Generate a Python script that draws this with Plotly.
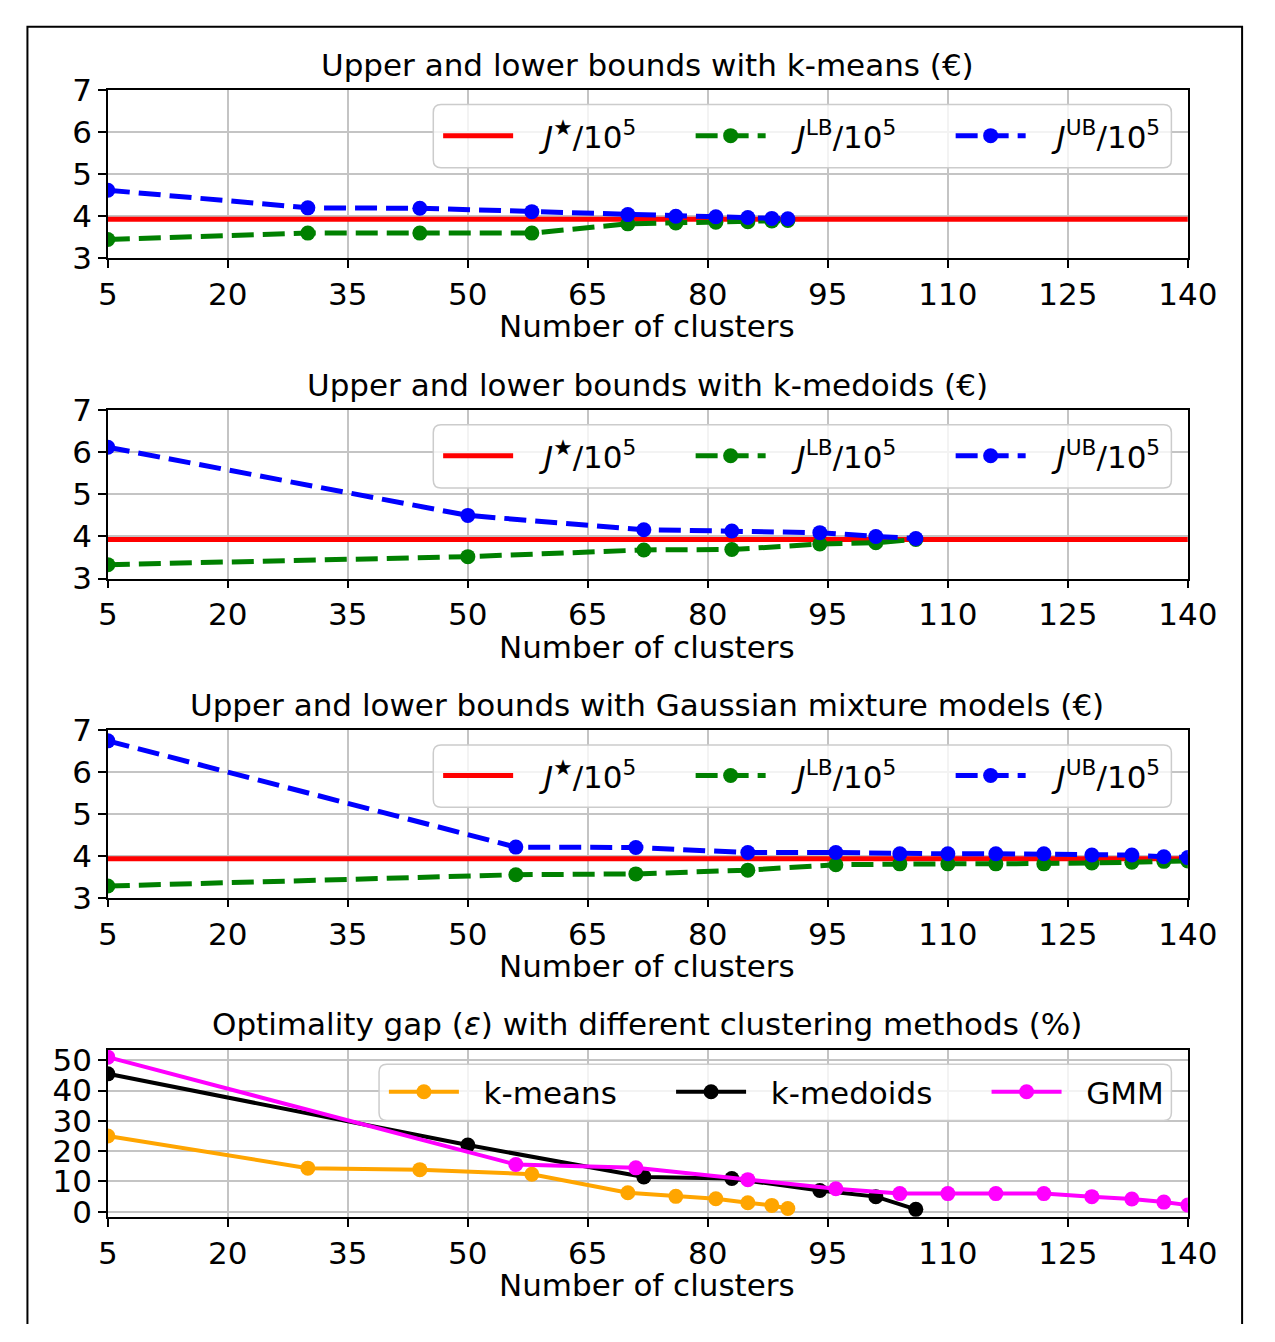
import plotly.graph_objects as go

# ---------------- data ----------------
J_STAR = 3.93
X_RANGE = [5, 140]

km_x = [5, 30, 44, 58, 70, 76, 81, 85, 88, 90]
km_ub = [4.62, 4.20, 4.19, 4.11, 4.04, 4.00, 3.99, 3.97, 3.95, 3.94]
km_lb = [3.45, 3.60, 3.60, 3.60, 3.82, 3.84, 3.86, 3.87, 3.89, 3.90]

kmed_x = [5, 50, 72, 83, 94, 101, 106]
kmed_ub = [6.12, 4.50, 4.16, 4.13, 4.09, 4.00, 3.95]
kmed_lb = [3.33, 3.52, 3.68, 3.69, 3.82, 3.85, 3.93]

gmm_x = [5, 56, 71, 85, 96, 104, 110, 116, 122, 128, 133, 137, 140]
gmm_ub = [6.75, 4.21, 4.20, 4.08, 4.08, 4.05, 4.05, 4.05, 4.05, 4.02, 4.02, 3.98, 3.96]
gmm_lb = [3.28, 3.55, 3.57, 3.66, 3.79, 3.81, 3.81, 3.81, 3.81, 3.83, 3.85, 3.87, 3.88]

gap_km = [25.0, 14.4, 13.9, 12.4, 6.3, 5.1, 4.3, 3.0, 2.1, 1.1]
gap_kmed = [45.5, 22.0, 11.5, 11.0, 7.0, 5.0, 0.8]
gap_gmm = [51.0, 15.6, 14.5, 10.6, 7.6, 6.0, 6.0, 6.0, 6.0, 5.0, 4.2, 3.2, 2.2]

x_ticks = [5, 20, 35, 50, 65, 80, 95, 110, 125, 140]
bound_ticks = [3, 4, 5, 6, 7]
gap_ticks = [0, 10, 20, 30, 40, 50]

titles = [
    "Upper and lower bounds with k-means (€)",
    "Upper and lower bounds with k-medoids (€)",
    "Upper and lower bounds with Gaussian mixture models (€)",
    "Optimality gap (<i>ε</i>) with different clustering methods (%)",
]
xlabel = "Number of clusters"

# ---------------- layout helpers ----------------
W, H = 1275, 1342
FONT = "DejaVu Sans"
FS = 31
LEAD = "\u00a0\u00a0\u2009"
LEAD4 = "\u00a0\u00a0"
TRAIL = "\u00a0" * 5

def px_y(p):
    return 1 - p / H

panels = [(74, 247), (403, 576), (732, 904), (1060, 1232)]
x_dom = [101 / W, 1216 / W]

fig = go.Figure()

ST_NAME = LEAD + "<i>J</i><sup>★</sup>/10<sup>5</sup>" + TRAIL
LB_NAME = LEAD + "<i>J</i><sup>LB</sup>/10<sup>5</sup>" + TRAIL
UB_NAME = LEAD + "<i>J</i><sup>UB</sup>/10<sup>5</sup>"

dash = "22px,9px"
MS = 15

bound_sets = [(km_x, km_lb, km_ub), (kmed_x, kmed_lb, kmed_ub), (gmm_x, gmm_lb, gmm_ub)]
for i, (xs, lb, ub) in enumerate(bound_sets):
    n = i + 1
    xa = "x" if n == 1 else f"x{n}"
    ya = "y" if n == 1 else f"y{n}"
    lg = "legend" if n == 1 else f"legend{n}"
    fig.add_trace(go.Scatter(x=X_RANGE, y=[J_STAR, J_STAR], mode="lines",
                             line=dict(color="red", width=5), name=ST_NAME,
                             xaxis=xa, yaxis=ya, legend=lg))
    fig.add_trace(go.Scatter(x=xs, y=lb, mode="lines+markers",
                             line=dict(color="green", width=5, dash=dash),
                             marker=dict(size=MS, color="green"), name=LB_NAME,
                             xaxis=xa, yaxis=ya, legend=lg))
    fig.add_trace(go.Scatter(x=xs, y=ub, mode="lines+markers",
                             line=dict(color="blue", width=5, dash=dash),
                             marker=dict(size=MS, color="blue"), name=UB_NAME,
                             xaxis=xa, yaxis=ya, legend=lg))

gap_names = [LEAD4 + "k-means" + TRAIL, LEAD4 + "k-medoids" + TRAIL, LEAD4 + "GMM"]
for xs, ys, col, nm in [(km_x, gap_km, "orange", gap_names[0]),
                        (kmed_x, gap_kmed, "black", gap_names[1]),
                        (gmm_x, gap_gmm, "magenta", gap_names[2])]:
    fig.add_trace(go.Scatter(x=xs, y=ys, mode="lines+markers",
                             line=dict(color=col, width=4),
                             marker=dict(size=MS, color=col), name=nm,
                             xaxis="x4", yaxis="y4", legend="legend4"))

axis_common = dict(showline=True, linecolor="black", linewidth=1.5, mirror=True,
                   ticks="outside", ticklen=8, tickwidth=1.5, tickcolor="black",
                   showgrid=True, gridcolor="#c4c4c4", gridwidth=1.5, zeroline=False,
                   tickfont=dict(family=FONT, size=FS, color="black"))

layout = dict(width=W, height=H, margin=dict(l=0, r=0, t=0, b=0),
              paper_bgcolor="white", plot_bgcolor="white",
              font=dict(family=FONT, size=FS, color="black"))


def rounded_rect(x0, y0, x1, y1, r=8):
    # pixel box -> paper-coordinate SVG path with rounded corners
    X = lambda v: v / W
    Y = lambda v: 1 - v / H
    return (f"M{X(x0 + r)},{Y(y0)} L{X(x1 - r)},{Y(y0)} Q{X(x1)},{Y(y0)} {X(x1)},{Y(y0 + r)} "
            f"L{X(x1)},{Y(y1 - r)} Q{X(x1)},{Y(y1)} {X(x1 - r)},{Y(y1)} "
            f"L{X(x0 + r)},{Y(y1)} Q{X(x0)},{Y(y1)} {X(x0)},{Y(y1 - r)} "
            f"L{X(x0)},{Y(y0 + r)} Q{X(x0)},{Y(y0)} {X(x0 + r)},{Y(y0)} Z")


annotations = []
shapes = []
legend_boxes = [(437, 89, 1199, 154), (437, 418, 1199, 483), (437, 747, 1199, 811), (381, 1075, 1199, 1133)]
for k, (top, bot) in enumerate(panels):
    n = k + 1
    xk = "xaxis" if n == 1 else f"xaxis{n}"
    yk = "yaxis" if n == 1 else f"yaxis{n}"
    layout[xk] = dict(domain=x_dom, range=X_RANGE, tickvals=x_ticks,
                      anchor="y" if n == 1 else f"y{n}", **axis_common)
    if n < 4:
        yr, yt = [3, 7], bound_ticks
    else:
        yr, yt = [-1.7, 53.5], gap_ticks
    layout[yk] = dict(domain=[px_y(bot), px_y(top)], range=yr, tickvals=yt,
                      anchor="x" if n == 1 else f"x{n}", **axis_common)
    annotations.append(dict(text=titles[k], xref="paper", yref="paper",
                            x=658 / W, y=px_y(top - 26), xanchor="center", yanchor="middle",
                            showarrow=False, font=dict(family=FONT, size=FS)))
    annotations.append(dict(text=xlabel, xref="paper", yref="paper",
                            x=658 / W, y=px_y(bot + 70), xanchor="center", yanchor="middle",
                            showarrow=False, font=dict(family=FONT, size=FS)))
    bx0, by0, bx1, by1 = legend_boxes[k]
    shapes.append(dict(type="path", xref="paper", yref="paper",
                       path=rounded_rect(bx0, by0, bx1, by1),
                       fillcolor="rgba(255,255,255,0.8)",
                       line=dict(color="#cccccc", width=1.5), layer="above"))
    lk = "legend" if n == 1 else f"legend{n}"
    center = (by0 + by1) / 2
    layout[lk] = dict(x=(bx0 + 5) / W, y=px_y(center - 28), xanchor="left", yanchor="top",
                      orientation="h", bgcolor="rgba(0,0,0,0)", borderwidth=0,
                      itemwidth=70, font=dict(family=FONT, size=FS, color="black"))

# figure frame (three visible sides, bottom edge lies at the page edge)
shapes.append(dict(type="path", xref="paper", yref="paper",
                   path=f"M{18 / W},0 L{18 / W},{px_y(9)} L{1272 / W},{px_y(9)} L{1272 / W},0",
                   line=dict(color="black", width=2), layer="above"))

layout["annotations"] = annotations
layout["shapes"] = shapes
fig.update_layout(**layout)
fig.write_html("out.html", config={"displayModeBar": False},
               post_script="document.body.style.margin='0';")
